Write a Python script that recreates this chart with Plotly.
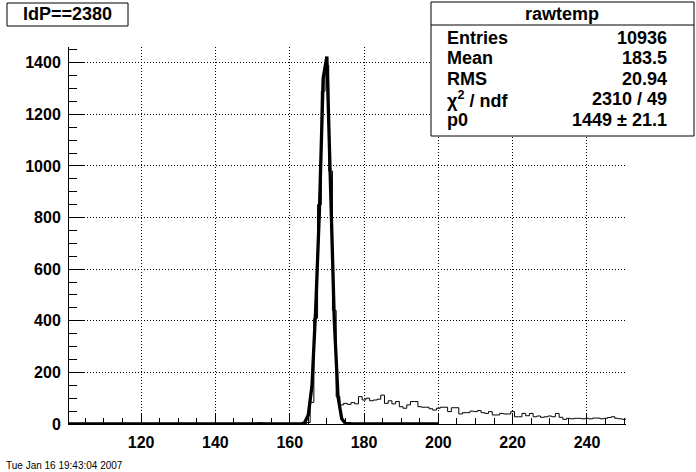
import numpy as np
import plotly.graph_objects as go

# ---------------- data ----------------
bin_low = 100.5
bin_width = 1.0
# histogram contents, bins centred at 101 ... 250
hist_values = (
    [0] * 50                      # 101-150
    + [3, 5, 3]                   # 151-153
    + [0] * 11                    # 154-164
    + [6, 84, 410, 850, 1290, 1390, 980, 440, 106, 74]          # 165-174
    + [80, 76, 83, 78, 106, 93, 100, 90, 93, 96]                # 175-184
    + [112, 80, 90, 78, 87, 67, 61, 74, 87, 87]                 # 185-194
    + [67, 65, 65, 59, 54, 61, 65, 65, 48, 63]                  # 195-204
    + [63, 39, 44, 44, 50, 48, 52, 44, 41, 48]                  # 205-214
    + [35, 35, 41, 39, 39, 48, 28, 28, 41, 32]                  # 215-224
    + [41, 28, 31, 26, 28, 31, 28, 41, 26, 18]                  # 225-234
    + [22, 20, 22, 22, 20, 22, 20, 23, 23, 20]                  # 235-244
    + [22, 25, 28, 22, 20, 18]                                  # 245-250
)

# fitted function as drawn (sampled at integer x, 100 ... 200)
fit_x = list(range(100, 201))
fit_y = (
    [0] * 64                                                    # 100-163
    + [5, 35, 150, 450, 830, 1340, 1424, 950, 400, 105, 20, 2]  # 164-175
    + [0] * 25                                                  # 176-200
)

stats_title = "rawtemp"
stats_labels = ["Entries", "Mean", "RMS", "χ<sup>2</sup> / ndf", "p0"]
stats_values = ["10936", "183.5", "20.94", "2310 / 49", "1449 ± 21.1"]
hist_title = "IdP==2380"
date_text = "Tue Jan 16 19:43:04 2007"

# ---------------- geometry ----------------
FW, FH = 696, 472
L, R, T, B = 69, 70, 47, 48
PW = FW - L - R
PH = FH - T - B


def xp(x):
    return (x - L) / PW


def yp(y):
    return (T + PH - y) / PH


edges = bin_low + bin_width * np.arange(len(hist_values) + 1)
hist_y = list(hist_values) + [hist_values[-1]]

fig = go.Figure()
fig.add_trace(go.Scatter(
    x=edges, y=hist_y, mode="lines", line=dict(color="black", width=1, shape="hv"),
    hoverinfo="skip", showlegend=False))
fig.add_trace(go.Scatter(
    x=fit_x, y=fit_y, mode="lines", line=dict(color="black", width=3.3),
    hoverinfo="skip", showlegend=False))

tickfont = dict(family="Liberation Sans, Arial, sans-serif", size=16, color="black", weight="bold")

fig.update_xaxes(
    range=[100.6, 250.5], showline=True, linecolor="black", linewidth=1, mirror=False,
    ticks="inside", ticklen=11, tickcolor="black", tickwidth=1,
    tick0=0, dtick=20, tickfont=tickfont, ticklabelstandoff=4,
    showgrid=True, gridcolor="black", gridwidth=1, griddash="1px,2px", zeroline=False,
    minor=dict(ticks="inside", dtick=5, tick0=0, ticklen=6, tickcolor="black", showgrid=False),
)
fig.update_yaxes(
    range=[0, 1461], showline=True, linecolor="black", linewidth=1, mirror=False,
    ticks="inside", ticklen=15, tickcolor="black", tickwidth=1,
    tick0=0, dtick=200, tickfont=tickfont, ticklabelstandoff=4,
    showgrid=True, gridcolor="black", gridwidth=1, griddash="1px,2px", zeroline=False,
    minor=dict(ticks="inside", dtick=50, tick0=0, ticklen=8, tickcolor="black", showgrid=False),
)

shapes = []
# stats box
shapes.append(dict(type="rect", xref="paper", yref="paper",
                   x0=xp(431), x1=xp(694), y0=yp(136), y1=yp(2),
                   line=dict(color="black", width=1), fillcolor="white", layer="above"))
shapes.append(dict(type="line", xref="paper", yref="paper",
                   x0=xp(431), x1=xp(694), y0=yp(25), y1=yp(25),
                   line=dict(color="black", width=1), layer="above"))
# title box
shapes.append(dict(type="rect", xref="paper", yref="paper",
                   x0=xp(7), x1=xp(128), y0=yp(26), y1=yp(3),
                   line=dict(color="black", width=1), fillcolor="white", layer="above"))

annots = []
sfont = dict(family="Liberation Sans, Arial, sans-serif", size=18, color="black", weight="bold")
annots.append(dict(text=hist_title, x=xp(67), y=yp(14.5), xref="paper", yref="paper",
                   xanchor="center", yanchor="middle", showarrow=False, font=sfont))
annots.append(dict(text=stats_title, x=xp(562), y=yp(13.5), xref="paper", yref="paper",
                   xanchor="center", yanchor="middle", showarrow=False, font=sfont))
row_y = [37.5, 58, 78.5, 99, 119.5]
for lab, val, ry in zip(stats_labels, stats_values, row_y):
    annots.append(dict(text=lab, x=xp(445), y=yp(ry), xref="paper", yref="paper",
                       xanchor="left", yanchor="middle", showarrow=False, font=sfont))
    annots.append(dict(text=val, x=xp(669), y=yp(ry), xref="paper", yref="paper",
                       xanchor="right", yanchor="middle", showarrow=False, font=sfont))
annots.append(dict(text=date_text, x=xp(4), y=yp(465), xref="paper", yref="paper",
                   xanchor="left", yanchor="middle", showarrow=False,
                   font=dict(family="Liberation Sans, Arial, sans-serif", size=10, color="black")))

fig.update_layout(
    width=FW, height=FH, margin=dict(l=L, r=R, t=T, b=B, pad=0),
    paper_bgcolor="white", plot_bgcolor="white",
    shapes=shapes, annotations=annots, showlegend=False,
)

fig.write_html("out.html", config={"displayModeBar": False},
               post_script="document.body.style.margin='0';document.body.style.overflow='hidden';")
